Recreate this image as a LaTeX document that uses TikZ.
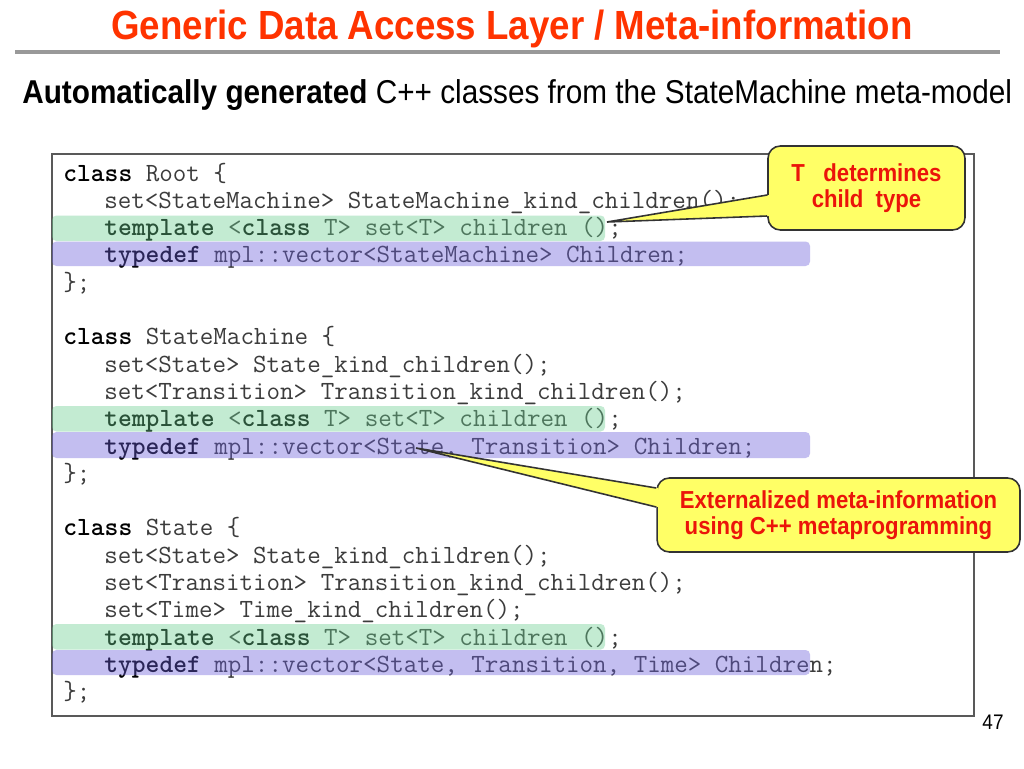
\documentclass[tikz,border=0pt]{standalone}
\usepackage{fontspec}
\setmainfont[FakeStretch=0.9]{Liberation Sans}
\definecolor{rojotitulo}{RGB}{255,51,0}
\definecolor{rojonota}{RGB}{235,20,10}
\definecolor{amarillonota}{RGB}{255,255,102}
\definecolor{bandaverde}{RGB}{105,205,143}
\definecolor{bandalila}{RGB}{105,93,218}
\definecolor{grisletra}{RGB}{60,60,60}
\newcommand{\clave}[1]{\textbf{\color{black}#1}}
\tikzset{
	linea/.style={anchor=base west, inner sep=0pt, text=grisletra, font=\ttfamily\fontsize{14.95}{16}\selectfont},
	verde/.style={fill=bandaverde, fill opacity=0.4, rounded corners=2.5pt},
	lila/.style={fill=bandalila, fill opacity=0.4, rounded corners=2.5pt},
	nota/.style={draw=black!80, line width=0.9pt, fill=amarillonota, rounded corners=7pt, align=center, text=rojonota, font=\bfseries\fontsize{14}{15}\selectfont},
	punta/.style={draw=black!80, line width=0.9pt}
}
\begin{document}
\begin{tikzpicture}[x=0.02cm, y=-0.02cm]
			\useasboundingbox[fill=white] (0,0) rectangle (1024,768);
		% Título
			\node[text=rojotitulo, font=\bfseries\fontsize{23.2}{26}\selectfont] (titulo) at (512,29) {Generic Data Access Layer / Meta-information};
			\draw[line width=2.2pt, black!40] (15,52) -- (1000,52);
			\node[anchor=base west, inner sep=0pt, font=\fontsize{18.8}{22}\selectfont] (subtitulo) at (22,103) {\textbf{Automatically generated} C++ classes from the StateMachine meta-model};

		% Marco del código
			\draw[fill=white, draw=black!65, line width=0.9pt] (52,154) rectangle (974,716);

		% Root
			\node[linea] (r1) at (63,181) {\clave{class} Root \{};
			\node[linea] (r2) at (104,208.3) {set<StateMachine> StateMachine\_kind\_children();};
			\node[linea] (r3) at (104,235.6) {\clave{template} <\clave{class} T> set<T> children ();};
			\node[linea] (r4) at (104,262.9) {\clave{typedef} mpl::vector<StateMachine> Children;};
			\node[linea] (r5) at (63,290.2) {\};};

		% StateMachine
			\node[linea] (s1) at (63,344.8) {\clave{class} StateMachine \{};
			\node[linea] (s2) at (104,372.1) {set<State> State\_kind\_children();};
			\node[linea] (s3) at (104,399.4) {set<Transition> Transition\_kind\_children();};
			\node[linea] (s4) at (104,426.7) {\clave{template} <\clave{class} T> set<T> children ();};
			\node[linea] (s5) at (104,454) {\clave{typedef} mpl::vector<State, Transition> Children;};
			\node[linea] (s6) at (63,481.3) {\};};

		% State
			\node[linea] (e1) at (63,535.9) {\clave{class} State \{};
			\node[linea] (e2) at (104,563.2) {set<State> State\_kind\_children();};
			\node[linea] (e3) at (104,590.5) {set<Transition> Transition\_kind\_children();};
			\node[linea] (e4) at (104,617.8) {set<Time> Time\_kind\_children();};
			\node[linea] (e5) at (104,645.1) {\clave{template} <\clave{class} T> set<T> children ();};
			\node[linea] (e6) at (104,672.4) {\clave{typedef} mpl::vector<State, Transition, Time> Children;};
			\node[linea] (e7) at (63,699.7) {\};};

		% Bandas
			\fill[verde] (52,215.5) rectangle (605,241);
			\fill[lila] (52,241.5) rectangle (810,266);
			\fill[verde] (52,406) rectangle (605,431.5);
			\fill[lila] (52,432) rectangle (810,458);
			\fill[verde] (52,624) rectangle (605,649.5);
			\fill[lila] (52,650) rectangle (810,675);

		% Notas
			\node[nota, minimum width=3.94cm, minimum height=1.68cm, text depth=0.25em] (tnota) at (866.5,188) {T\ \ \ determines\\child\ \ type};
			\coordinate (tpunta) at (607,222);
			\fill[amarillonota] ([shift={(2,7)}]tnota.west) -- (tpunta) -- ([shift={(2,28)}]tnota.west) -- cycle;
			\draw[punta] ([shift={(0,7)}]tnota.west) -- (tpunta) -- ([shift={(0,28)}]tnota.west);

			\node[nota, minimum width=7.26cm, minimum height=1.48cm] (mnota) at (838.5,515) {Externalized meta-information\\using C++ metaprogramming};
			\coordinate (mpunta) at (416,448);
			\fill[amarillonota] ([shift={(2,-27)}]mnota.west) -- (mpunta) -- ([shift={(2,-8)}]mnota.west) -- cycle;
			\draw[punta] ([shift={(0,-27)}]mnota.west) -- (mpunta) -- ([shift={(0,-8)}]mnota.west);

		% Página
			\node[font=\fontsize{12}{14}\selectfont] (pagina) at (993,722) {47};
\end{tikzpicture}
\end{document}
